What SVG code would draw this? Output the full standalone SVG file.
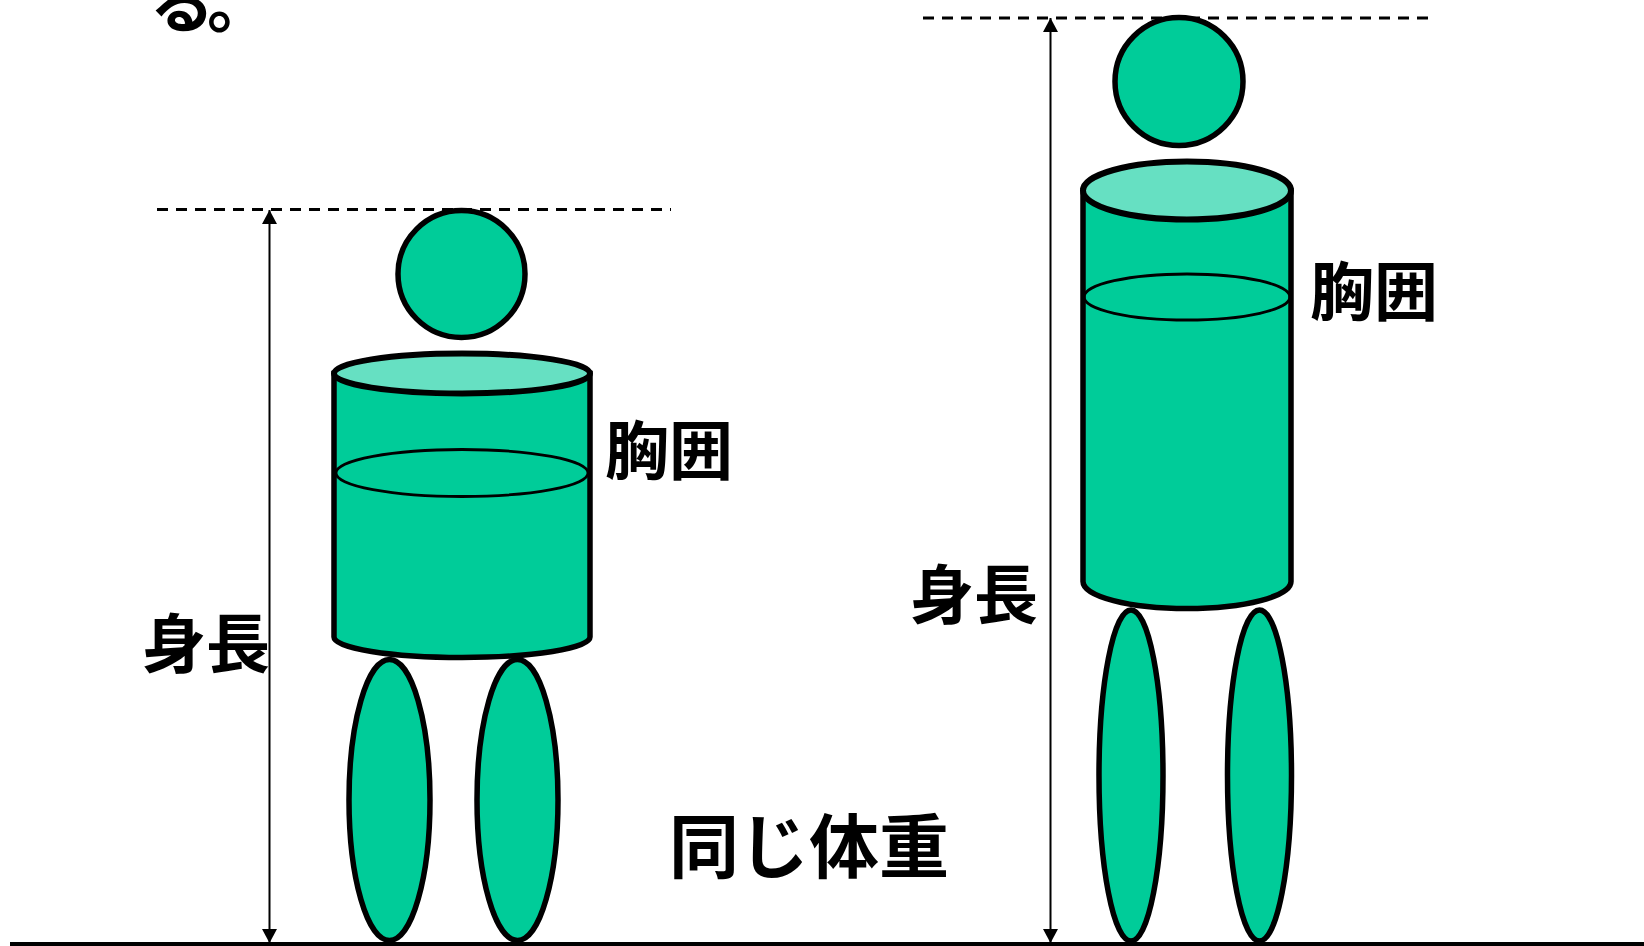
<svg xmlns="http://www.w3.org/2000/svg" width="1644" height="946" viewBox="0 0 1644 946">
  <style>
    .body { fill: #00CC99; stroke: #000; stroke-width: 5.5; }
    .lid { fill: #66E0C2; stroke: #000; stroke-width: 6; }
    .girth { fill: none; stroke: #000; stroke-width: 2.8; }
    .guide { stroke: #000; stroke-width: 2.8; stroke-dasharray: 11 8; fill: none; }
    .dim { stroke: #000; stroke-width: 2; fill: none; marker-start: url(#tip); marker-end: url(#tip); }
    .ground { stroke: #000; stroke-width: 4; }
    .label { font-family: "Noto Sans CJK JP", "Noto Sans CJK SC", sans-serif; fill: #000; font-weight: bold; }
  </style>
  <defs>
    <marker id="tip" viewBox="0 0 14 15" refX="14" refY="7.5" markerWidth="14" markerHeight="15" markerUnits="userSpaceOnUse" orient="auto-start-reverse">
      <path d="M0,0 L14,7.5 L0,15 Z" fill="#000"/>
    </marker>
  </defs>
  <rect width="1644" height="946" fill="#fff"/>

  <!-- tail of the sentence above, cut at the top edge -->
  <text class="label" x="150" y="27" font-size="64">る<tspan x="207">。</tspan></text>

  <!-- guide lines, dimension arrows and ground -->
  <g id="connectors">
    <line class="guide" x1="157" y1="209.5" x2="671" y2="209.5"/>
    <line class="guide" x1="923" y1="18" x2="1436" y2="18"/>
    <line class="dim" x1="269.5" y1="210" x2="269.5" y2="943"/>
    <line class="dim" x1="1050.5" y1="18" x2="1050.5" y2="943"/>
    <line class="ground" x1="10" y1="944" x2="1644" y2="944"/>
  </g>

  <!-- short, stout figure -->
  <g id="figure-short">
    <ellipse class="body" cx="389.5" cy="800" rx="40.5" ry="140.5"/>
    <ellipse class="body" cx="517.5" cy="800" rx="40.5" ry="140.5"/>
    <path class="body" d="M334,373.5 V637 A128,20.5 0 0 0 590,637 V373.5 Z"/>
    <ellipse class="girth" cx="462" cy="473" rx="126" ry="23.5"/>
    <ellipse class="lid" cx="462" cy="373.5" rx="128" ry="20"/>
    <circle class="body" cx="461.5" cy="274" r="63.5"/>
  </g>

  <!-- tall, slim figure -->
  <g id="figure-tall">
    <ellipse class="body" cx="1131" cy="775.5" rx="32" ry="165.5"/>
    <ellipse class="body" cx="1259.5" cy="775.5" rx="32" ry="165.5"/>
    <path class="body" d="M1083,190.5 V581.5 A104,27 0 0 0 1291,581.5 V190.5 Z"/>
    <ellipse class="girth" cx="1187" cy="297" rx="103" ry="23"/>
    <ellipse class="lid" cx="1187" cy="190.5" rx="104" ry="29"/>
    <circle class="body" cx="1179" cy="81.5" r="64"/>
  </g>

  <g id="labels">
    <text class="label" x="142" y="667" font-size="64">身長</text>
    <text class="label" x="605" y="474" font-size="64">胸囲</text>
    <text class="label" x="910" y="618" font-size="64">身長</text>
    <text class="label" x="1310" y="315" font-size="64">胸囲</text>
    <text class="label" x="669" y="873" font-size="70">同じ体重</text>
  </g>
</svg>
